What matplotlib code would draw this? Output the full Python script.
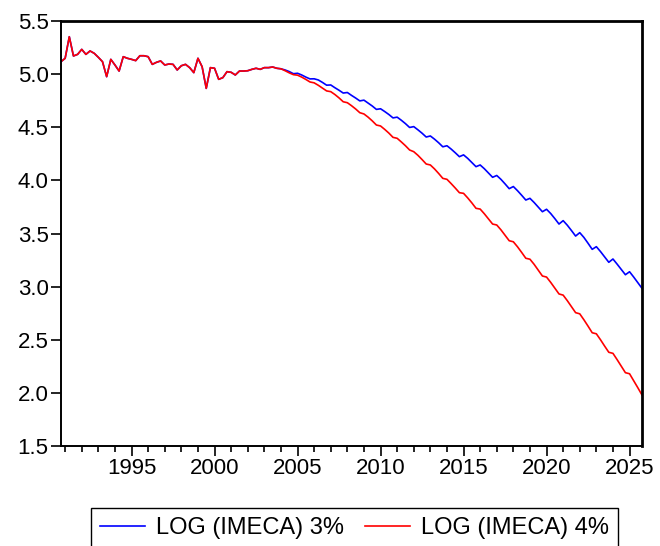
import pandas as pd
import matplotlib
matplotlib.use('Agg')
import matplotlib.pyplot as plt
from matplotlib.ticker import MultipleLocator, FormatStrFormatter

plt.rcParams['font.family'] = ['Liberation Sans', 'DejaVu Sans']

# Quarterly observations, 1990Q4 - 2025Q4
quarters = pd.period_range('1990Q4', '2025Q4', freq='Q')

# Observed history (same for both series)
history = [5.117, 5.149, 5.352, 5.171, 5.186, 5.233, 5.186, 5.218, 5.196, 5.158,
           5.117, 4.976, 5.139, 5.086, 5.029, 5.164, 5.149, 5.139, 5.127, 5.173,
           5.173, 5.164, 5.092, 5.111, 5.124, 5.086, 5.095, 5.092, 5.039, 5.079,
           5.092, 5.061, 5.014, 5.149, 5.070, 4.866, 5.061, 5.055, 4.951, 4.967,
           5.023, 5.017, 4.992, 5.029, 5.029, 5.032, 5.045, 5.055, 5.045, 5.061,
           5.061, 5.067, 5.055, 5.050]

# Projection, 3% scenario
proj_3 = [5.039, 5.024, 5.004, 5.008, 4.992, 4.972, 4.955, 4.956, 4.945, 4.922,
          4.896, 4.898, 4.872, 4.848, 4.822, 4.827, 4.800, 4.775, 4.748, 4.755,
          4.728, 4.700, 4.668, 4.674, 4.648, 4.620, 4.588, 4.595, 4.566, 4.534,
          4.498, 4.506, 4.476, 4.444, 4.408, 4.418, 4.388, 4.354, 4.316, 4.326,
          4.295, 4.260, 4.223, 4.240, 4.207, 4.168, 4.129, 4.145, 4.110, 4.070,
          4.029, 4.046, 4.010, 3.967, 3.922, 3.942, 3.903, 3.860, 3.815, 3.831,
          3.792, 3.748, 3.705, 3.728, 3.688, 3.640, 3.589, 3.621, 3.578, 3.528,
          3.476, 3.508, 3.463, 3.408, 3.351, 3.376, 3.330, 3.280, 3.229, 3.260,
          3.212, 3.162, 3.112, 3.140, 3.090, 3.037, 2.984]

# Projection, 4% scenario
proj_4 = [5.032, 5.012, 4.995, 4.990, 4.972, 4.950, 4.926, 4.918, 4.895, 4.868,
          4.842, 4.835, 4.808, 4.776, 4.740, 4.731, 4.703, 4.672, 4.637, 4.625,
          4.595, 4.560, 4.521, 4.512, 4.480, 4.445, 4.405, 4.396, 4.362, 4.326,
          4.286, 4.270, 4.236, 4.196, 4.154, 4.145, 4.108, 4.065, 4.019, 4.010,
          3.970, 3.928, 3.884, 3.878, 3.835, 3.788, 3.737, 3.730, 3.686, 3.638,
          3.589, 3.580, 3.535, 3.484, 3.432, 3.422, 3.375, 3.322, 3.267, 3.258,
          3.210, 3.155, 3.100, 3.090, 3.040, 2.986, 2.931, 2.920, 2.868, 2.812,
          2.755, 2.744, 2.688, 2.628, 2.566, 2.556, 2.500, 2.440, 2.382, 2.372,
          2.313, 2.252, 2.190, 2.180, 2.115, 2.048, 1.980]

labels = ['LOG (IMECA) 3%', 'LOG (IMECA) 4%']

series_3 = history + proj_3
series_4 = history + proj_4
x = quarters.year + (quarters.quarter - 1) / 4

fig = plt.figure(figsize=(6.6, 5.46), dpi=100)
ax = fig.add_axes([61 / 660, 1 - 446 / 546, 581 / 660, 425 / 546])

ax.plot(x, series_3, color='#0000ff', lw=1.2, label=labels[0])
ax.plot(x, series_4, color='#ff0000', lw=1.2, label=labels[1])

ax.set_xlim(x[0], x[-1])
ax.set_ylim(1.5, 5.5)
ax.yaxis.set_major_locator(MultipleLocator(0.5))
ax.yaxis.set_major_formatter(FormatStrFormatter('%.1f'))
ax.set_xticks([1995, 2000, 2005, 2010, 2015, 2020, 2025])
ax.xaxis.set_minor_locator(MultipleLocator(1))

ax.tick_params(axis='both', which='major', labelsize=16, length=7, width=1.2,
               direction='out', pad=2, color='black')
ax.tick_params(axis='x', which='minor', length=4, width=1.2, direction='out')

for side in ['left', 'bottom']:
    ax.spines[side].set_linewidth(1.4)
for side in ['top', 'right']:
    ax.spines[side].set_linewidth(2.0)

ax.legend(loc='upper center', bbox_to_anchor=(0.505, -0.146), ncol=2,
          fontsize=17, frameon=True, fancybox=False, edgecolor='black',
          framealpha=1, borderpad=0.4, borderaxespad=0, handlelength=1.9,
          columnspacing=0.9, handletextpad=0.45)

fig.savefig('out.png', dpi=100)
